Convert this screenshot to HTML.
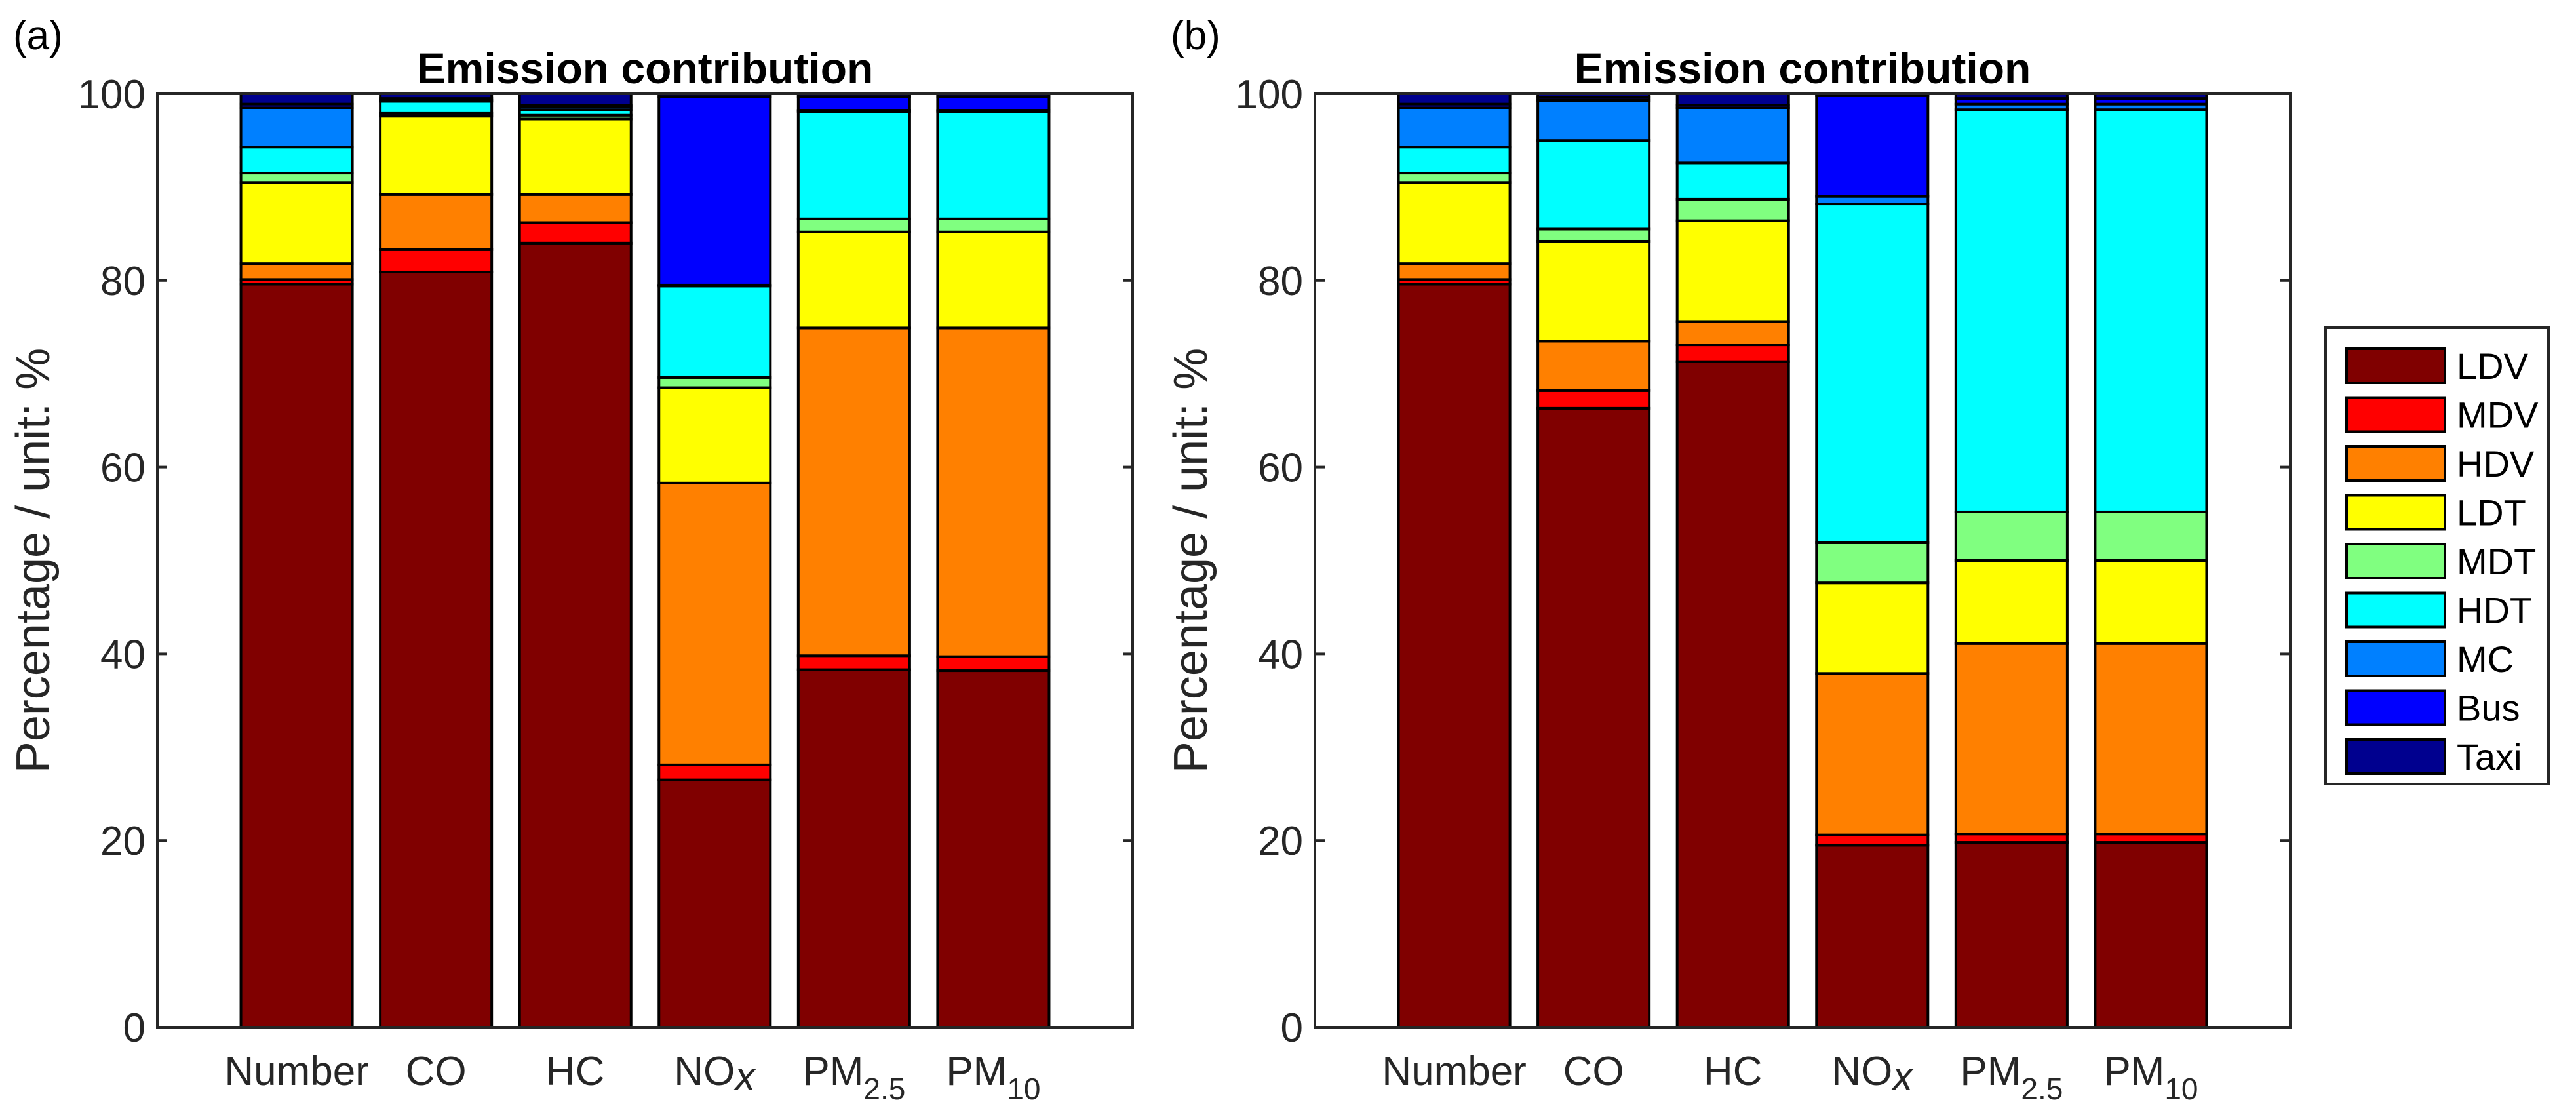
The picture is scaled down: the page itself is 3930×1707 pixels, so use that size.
<!DOCTYPE html>
<html><head><meta charset="utf-8"><style>
html,body{margin:0;padding:0;background:#fff;}
svg{display:block;font-family:"Liberation Sans",Arial,sans-serif;}
</style></head><body>
<svg id="chart" width="3930" height="1707" viewBox="0 0 3930 1707" xmlns="http://www.w3.org/2000/svg"></svg>
<script>
const categories = ["Number","CO","HC","NOx","PM2.5","PM10"];
const seriesNames = ["LDV","MDV","HDV","LDT","MDT","HDT","MC","Bus","Taxi"];
const seriesColors = ["#800000","#FF0000","#FF8000","#FFFF00","#80FF80","#00FFFF","#0080FF","#0000FF","#00008F"];
const yTicks = [0,20,40,60,80,100];
// panel (a) shares (%)
const aLDV  = [79.6, 80.9, 84.0, 26.5, 38.3, 38.2];
const aMDV  = [0.5, 2.4, 2.2, 1.6, 1.5, 1.5];
const aHDV  = [1.7, 5.9, 3.0, 30.2, 35.1, 35.2];
const aLDT  = [8.7, 8.4, 8.1, 10.2, 10.3, 10.3];
const aMDT  = [1.0, 0.3, 0.4, 1.1, 1.4, 1.4];
const aHDT  = [2.8, 1.3, 0.6, 9.8, 11.5, 11.5];
const aMC   = [4.2, 0.1, 0.3, 0.1, 0.1, 0.1];
const aBus  = [0.4, 0.2, 0.2, 20.2, 1.5, 1.5];
const aTaxi = [1.1, 0.5, 1.2, 0.3, 0.3, 0.3];
// panel (b) shares (%)
const bLDV  = [79.6, 66.3, 71.3, 19.5, 19.8, 19.8];
const bMDV  = [0.5, 1.9, 1.8, 1.1, 0.9, 0.9];
const bHDV  = [1.7, 5.3, 2.5, 17.3, 20.4, 20.4];
const bLDT  = [8.7, 10.7, 10.8, 9.7, 8.9, 8.9];
const bMDT  = [1.0, 1.3, 2.3, 4.3, 5.2, 5.2];
const bHDT  = [2.8, 9.5, 3.9, 36.3, 43.1, 43.1];
const bMC   = [4.2, 4.3, 5.9, 0.8, 0.6, 0.6];
const bBus  = [0.4, 0.3, 0.3, 10.8, 0.6, 0.6];
const bTaxi = [1.1, 0.4, 1.2, 0.2, 0.5, 0.5];

const NS="http://www.w3.org/2000/svg";
const svg=document.getElementById('chart');
function mk(tag,attrs,parent){const e=document.createElementNS(NS,tag);for(const k in attrs)e.setAttribute(k,attrs[k]);(parent||svg).appendChild(e);return e;}

function panel(id,x0,label,series){
  const x1=x0+1488, yTop=143, yBot=1567;
  const g=mk('g',{});
  
  
  const xs=i=>x0+(i+1)*(1488/7);
  const ys=v=>yBot-(v/100)*(yBot-yTop);
  const bw=0.8*1488/7;
  mk('rect',{x:x0,y:yTop,width:1488,height:yBot-yTop,fill:'#fff'},g);
  categories.forEach((c,i)=>{
    let cum=0;
    series.forEach((s,k)=>{
      const v=s[i];
      const r=mk('rect',{x:xs(i)-bw/2,y:ys(cum+v),width:bw,height:ys(cum)-ys(cum+v),fill:seriesColors[k],stroke:'#000','stroke-width':4},g);
      
      
      cum+=v;
    });
  });
  const ax=mk('rect',{x:x0,y:yTop,width:1488,height:yBot-yTop,fill:'none',stroke:'#262626','stroke-width':4},g);
  
  
  yTicks.forEach(t=>{
    const y=ys(t);
    mk('line',{x1:x0,y1:y,x2:x0+15,y2:y,stroke:'#262626','stroke-width':4},g);
    mk('line',{x1:x1,y1:y,x2:x1-15,y2:y,stroke:'#262626','stroke-width':4},g);
    const tl=mk('text',{x:x0-18,y:y+22,'text-anchor':'end','font-size':62,fill:'#262626'},g);
    tl.textContent=t;
    
    
  });
  categories.forEach((c,i)=>{
    const t=mk('text',{x:xs(i),y:1655,'text-anchor':'middle','font-size':62,fill:'#262626'},g);
    
    
    if(c==='NOx'){t.innerHTML='NO<tspan font-style="italic" dy="8">x</tspan>';}
    else if(c.startsWith('PM')){t.innerHTML='PM<tspan font-size="46" dy="22">'+c.slice(2)+'</tspan>';}
    else t.textContent=c;
  });
  const ti=mk('text',{x:(x0+x1)/2,y:127,'text-anchor':'middle','font-size':66,'font-weight':'bold',fill:'#000'},g);
  ti.textContent='Emission contribution';
  
  
  const yl=mk('text',{x:0,y:0,'text-anchor':'middle','font-size':72,fill:'#262626',transform:`translate(${x0-165},855) rotate(-90)`},g);
  yl.textContent='Percentage / unit: %';
  
  
  const pl=mk('text',{x:x0-220,y:75,'font-size':62,fill:'#000'},g);
  pl.textContent=label;
  
  
}
panel('a',240,'(a)',[aLDV,aMDV,aHDV,aLDT,aMDT,aHDT,aMC,aBus,aTaxi]);
panel('b',2006,'(b)',[bLDV,bMDV,bHDV,bLDT,bMDT,bHDT,bMC,bBus,bTaxi]);

const lg=mk('g',{});


mk('rect',{x:3548,y:500,width:340,height:696,fill:'#fff',stroke:'#262626','stroke-width':4},lg);
seriesNames.forEach((n,k)=>{
  const cy=558+k*74.5;
  const e=mk('g',{},lg);
  
  
  mk('rect',{x:3580,y:cy-26,width:150,height:52,fill:seriesColors[k],stroke:'#000','stroke-width':4},e);
  const t=mk('text',{x:3748,y:cy+20,'font-size':56,fill:'#000'},e);
  t.textContent=n;
});
</script>
</body></html>
